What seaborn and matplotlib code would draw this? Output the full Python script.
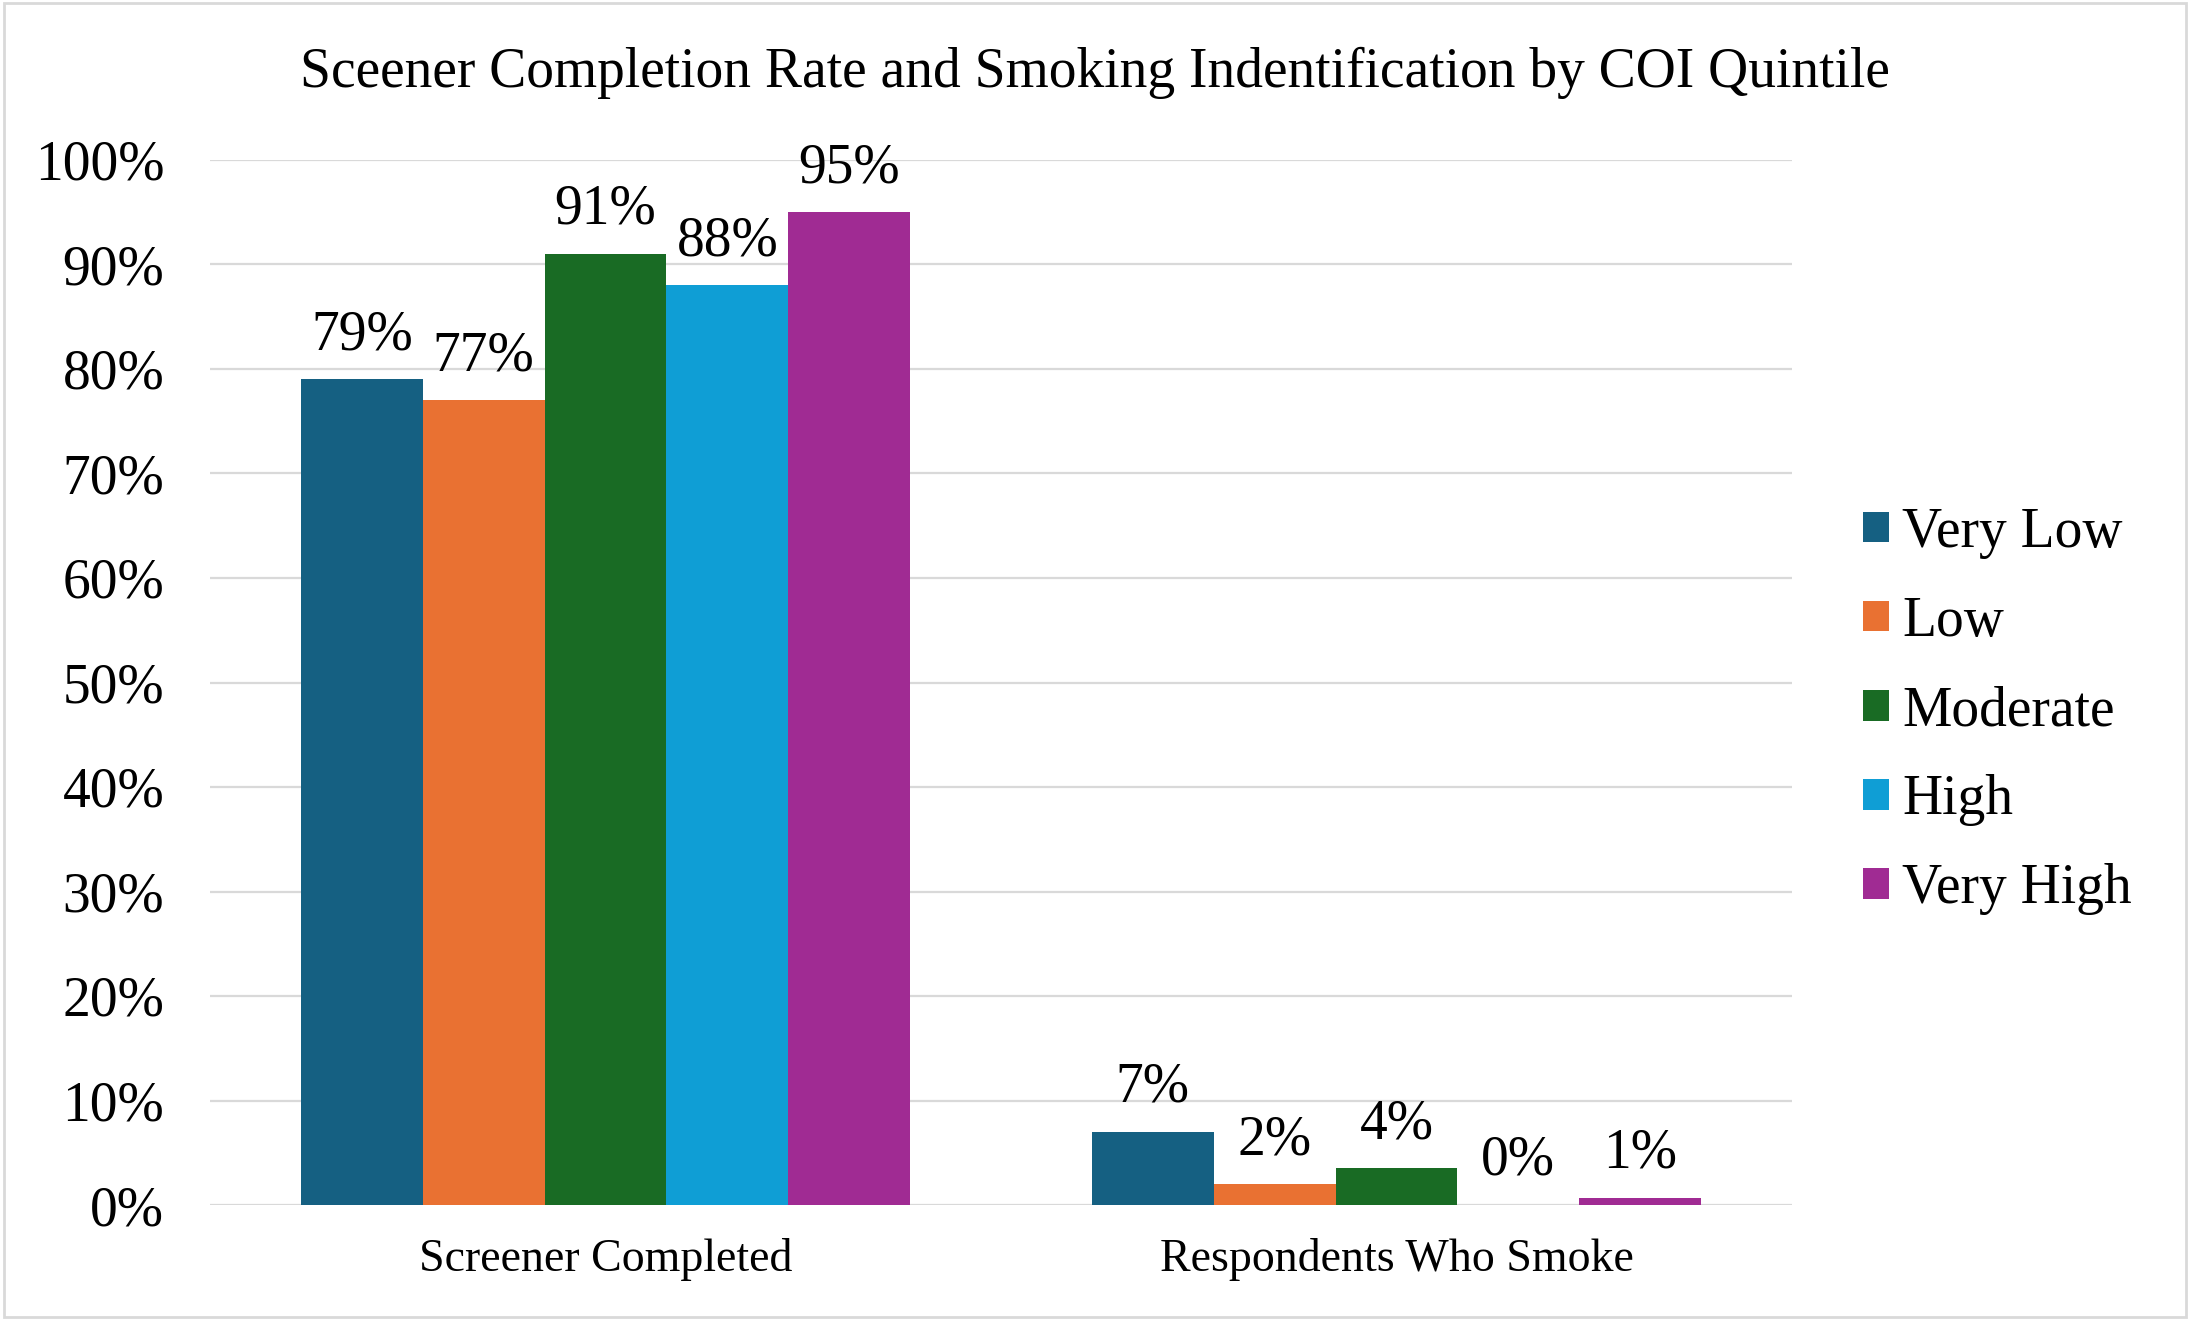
import pandas as pd
import numpy as np
import seaborn as sns
from matplotlib import pyplot as plt
from matplotlib.patches import Rectangle
from matplotlib.ticker import FuncFormatter

# data
measures = ['Screener Completed', 'Respondents Who Smoke']
quintiles = ['Very Low', 'Low', 'Moderate', 'High', 'Very High']
screener_completed = [79, 77, 91, 88, 95]
respondents_smoke = [7.0, 2.0, 3.5, 0.0, 0.7]
colors = ['#156082', '#E97132', '#196B24', '#0F9ED5', '#A02B93']

title = 'Sceener Completion Rate and Smoking Indentification by COI Quintile'


def build_frame():
    rows = []
    for q, v in zip(quintiles, screener_completed):
        rows.append({'measure': measures[0], 'quintile': q, 'value': v})
    for q, v in zip(quintiles, respondents_smoke):
        rows.append({'measure': measures[1], 'quintile': q, 'value': v})
    return pd.DataFrame(rows)


if __name__ == "__main__":
    df = build_frame()

    sns.set_style('white')
    plt.rcParams['font.family'] = ['Liberation Serif', 'DejaVu Serif']
    plt.rcParams.update({'text.color': 'black', 'xtick.color': 'black',
                         'ytick.color': 'black', 'axes.labelcolor': 'black'})

    fig = plt.figure(figsize=(21.9, 13.2), dpi=100)
    ax = fig.add_axes([210 / 2190, 1 - 1205 / 1320, (1792 - 210) / 2190, (1205 - 160) / 1320])

    sns.barplot(data=df, x='measure', y='value', hue='quintile', hue_order=quintiles,
                palette=colors, saturation=1, width=0.77, gap=0, linewidth=0,
                errorbar=None, legend=True, ax=ax)

    # data labels above each bar
    for c in ax.containers:
        ax.bar_label(c, fmt='{:.0f}%', padding=13, fontsize=40, color='black')

    ax.set_ylim(0, 100)
    ax.set_yticks(np.arange(0, 101, 10))
    ax.yaxis.set_major_formatter(FuncFormatter(lambda v, p: f'{v:.0f}%'))
    ax.set_xlim(-0.5, 1.5)
    ax.set_xlabel('')
    ax.set_ylabel('')
    ax.tick_params(axis='y', length=0, pad=33, labelsize=40)
    ax.tick_params(axis='x', length=0, pad=24, labelsize=33)

    ax.yaxis.grid(True, color='#D9D9D9', linewidth=1.6)
    ax.set_axisbelow(True)
    for s in ax.spines.values():
        s.set_visible(False)

    # legend on the right, square markers
    handles, labels = ax.get_legend_handles_labels()
    ax.get_legend().remove()
    fig.legend(handles, labels, loc='center left', bbox_to_anchor=(1863 / 2190, 1 - 711 / 1320),
               frameon=False, fontsize=40, handlelength=0.47, handleheight=0.47,
               handletextpad=0.24, labelspacing=0.67, borderpad=0, borderaxespad=0)

    fig.text(0.5, 1 - 73 / 1320, title, ha='center', va='center', fontsize=40)

    # light chart-area border
    fig.patches.append(Rectangle((0.002, 0.002), 0.996, 0.996, transform=fig.transFigure,
                                 fill=False, edgecolor='#D9D9D9', linewidth=2))

    fig.savefig('out.png', dpi=100)
